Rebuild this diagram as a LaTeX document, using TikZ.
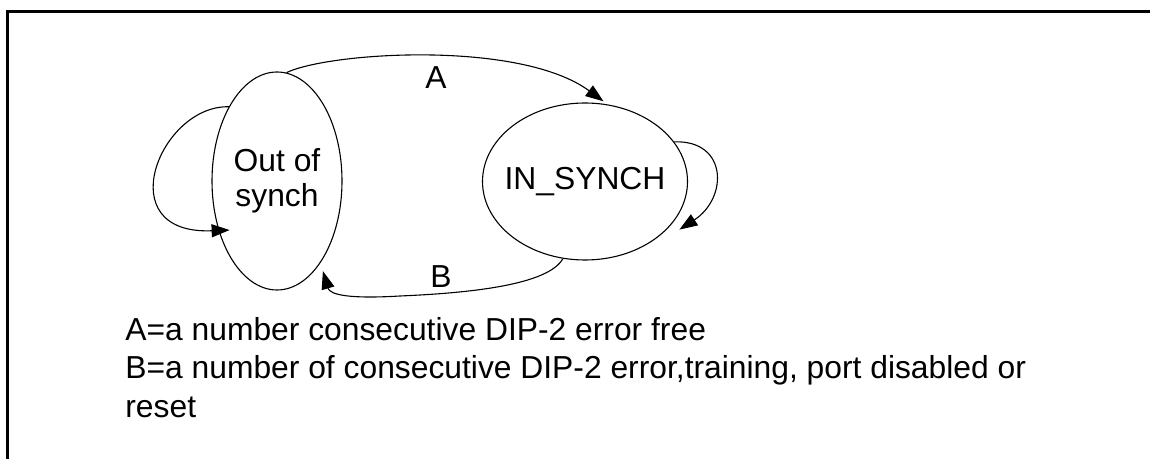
\documentclass[tikz,border=0pt]{standalone}
\usepackage{fontspec}
\setmainfont{Liberation Sans}
\usetikzlibrary{shapes.geometric,arrows.meta,calc}
\begin{document}
\begin{tikzpicture}[x=0.5pt,y=-0.5pt,
  every node/.style={font=\fontsize{15.9}{17.5}\selectfont},
  state/.style={draw,ellipse,line width=0.55pt,inner sep=0pt},
  trans/.style={line width=0.55pt,-{Triangle[length=9pt,width=6.5pt]}},
  frame/.style={line width=1.3pt},
  lbl/.style={inner sep=0pt},
  note/.style={anchor=base west,inner sep=0pt}]
\useasboundingbox (0,0) rectangle (1150,459);
\draw[frame] (7.5,470) -- (7.5,11.5) -- (1160,11.5);

\node[state,minimum width=65pt,minimum height=109pt,align=center] (out) at (277,181) {Out of\\synch};
\node[state,minimum width=102.5pt,minimum height=78.5pt] (in) at (585,181.5) {\makebox[0pt]{IN\_SYNCH}};

\draw[trans] (out.85) .. controls (330,52) and (520,40) .. ($(in.center)!1.03!(in.77)$);
\draw[trans] (in.254) .. controls (548,285) and (470,293) .. (400,296) .. controls (350,299) and (330,295) .. ($(out.center)!1.08!(out.-63)$);
\draw[trans] (out.123) .. controls (160,105) and (108,235) .. ($(out.center)!0.85!(out.226)$);
\draw[trans] (in.24) .. controls (728,140) and (728,198) .. ($(in.center)!1.1!(in.-27)$);

\node[lbl] (la) at (436,77.5) {A};
\node[lbl] (lb) at (441,277) {B};

\node[note] (t1) at (125,341) {A=a number consecutive DIP-2 error free};
\node[note] (t2) at (125,379) {B=a number of consecutive DIP-2 error,training, port disabled or};
\node[note] (t3) at (125,417) {reset};
\end{tikzpicture}
\end{document}
